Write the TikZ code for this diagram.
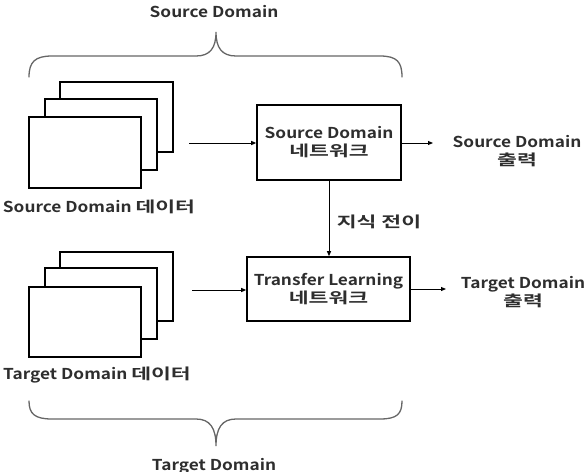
\documentclass[tikz,border=0pt]{standalone}
\usepackage{fontspec}
\setmainfont{Noto Sans CJK KR}[BoldFont={* Bold}]
\usetikzlibrary{arrows.meta}
\newcommand{\stretchtxt}[1]{\scalebox{1.15}[1]{#1}}
\newcommand{\hangw}[1]{\scalebox{1.25}[1]{#1}}
\begin{document}
\begin{tikzpicture}[x=1pt,y=-1pt,
  lbl/.style={font=\bfseries\fontsize{15}{18}\selectfont, text=black!82, align=center, inner sep=0pt},
  netbox/.style={draw, line width=1.6pt, align=center, inner sep=0pt, font=\bfseries\fontsize{15}{18}\selectfont, text=black!82},
  sheet/.style={draw, line width=1.6pt, fill=white},
  conn/.style={line width=1pt, -{Triangle[length=5pt,width=4pt]}},
  brace/.style={line width=1.3pt, draw=black!60, line cap=round}]
\useasboundingbox (0,0) rectangle (586,471);
% top label and brace
\node[lbl] (srcdom) at (214,12) {\stretchtxt{Source Domain}};
\draw[brace] (29,77) .. controls (29,62) and (35,56) .. (52,56) -- (196,56)
  .. controls (210,56) and (216,48) .. (216,32)
  .. controls (216,48) and (222,56) .. (236,56) -- (380,56)
  .. controls (397,56) and (402,62) .. (402,77);
% source stack
\draw[sheet] (60,82) rectangle (173,152);
\draw[sheet] (45,99) rectangle (157,170);
\draw[sheet] (29,117) rectangle (141,188);
\node[lbl] (srcdata) at (99,207) {\stretchtxt{Source Domain \hangw{데이터}}};
% target stack
\draw[sheet] (60,252) rectangle (173,321);
\draw[sheet] (45,268) rectangle (157,339);
\draw[sheet] (29,287) rectangle (141,357);
\node[lbl] (tgtdata) at (97,375) {\stretchtxt{Target Domain \hangw{데이터}}};
% networks
\node[netbox, minimum width=144, minimum height=75] (srcnet) at (329,142.5) {\stretchtxt{Source Domain}\\\stretchtxt{\hangw{네트워크}}};
\node[netbox, minimum width=163, minimum height=64] (tlnet) at (328.5,289) {\stretchtxt{Transfer Learning}\\\stretchtxt{\hangw{네트워크}}};
% outputs
\node[lbl] (srcout) at (517,151) {\stretchtxt{Source Domain}\\\stretchtxt{\hangw{출력}}};
\node[lbl] (tgtout) at (523,292) {\stretchtxt{Target Domain}\\\stretchtxt{\hangw{출력}}};
\node[lbl] (know) at (379,222) {\stretchtxt{\hangw{지식 전이}}};
% connectors
\coordinate (srcin) at (189,143);
\coordinate (tgtin) at (192,290);
\coordinate (srcend) at (433,143);
\coordinate (tgtend) at (446,289);
\draw[conn] (srcin) -- (srcin -| srcnet.west);
\draw[conn] (tgtin) -- (tgtin -| tlnet.west);
\draw[conn] (srcnet.east |- srcend) -- (srcend);
\draw[conn] (tlnet.east |- tgtend) -- (tgtend);
\draw[conn] (srcnet.south) -- (srcnet.south |- tlnet.north);
% bottom brace and label
\draw[brace] (29,401) .. controls (29,414) and (35,419) .. (52,419) -- (196,419)
  .. controls (210,419) and (216,428) .. (216,446)
  .. controls (216,428) and (222,419) .. (236,419) -- (380,419)
  .. controls (397,419) and (402,414) .. (402,401);
\node[lbl] (tgtdom) at (214,466) {\stretchtxt{Target Domain}};
\end{tikzpicture}
\end{document}
